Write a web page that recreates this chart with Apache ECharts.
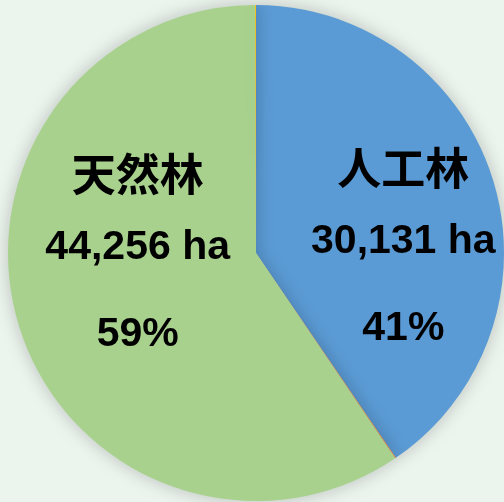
<!DOCTYPE html>
<html>
<head>
<meta charset="utf-8">
<script src="https://cdn.jsdelivr.net/npm/echarts@6/dist/echarts.min.js"></script>
<style>
  html, body { margin: 0; padding: 0; background: #ecf4ee; }
  #chart { width: 504px; height: 502px; }
</style>
</head>
<body>
<div id="chart"></div>
<script>
// 森林面積の内訳 (ha)
const categories = ['人工林', 'その他1', '天然林', 'その他2'];
const areas = [30131, 40, 44256, 40];
const colors = ['#5b9bd5', '#ed7d31', '#a9d18e', '#ffc000'];
const showLabel = [true, false, true, false];
const labelOffsets = [[26, 40], [0, 0], [3, -29], [0, 0]];

// 割合は人工林＋天然林の合計に対して
const labeledTotal = areas.filter((v, i) => showLabel[i]).reduce((a, b) => a + b, 0);

const chart = echarts.init(document.getElementById('chart'));

const data = categories.map((name, i) => ({
    name: name,
    value: areas[i],
    itemStyle: { color: colors[i] },
    label: { show: showLabel[i], offset: labelOffsets[i] }
}));

const numFont = '"Liberation Sans", Arial, sans-serif';

chart.setOption({
    backgroundColor: '#ecf4ee',
    animation: false,
    series: [{
        type: 'pie',
        center: [256, 253],
        radius: [0, 248],
        startAngle: 90,
        clockwise: true,
        data: data,
        itemStyle: {
            borderWidth: 0,
            shadowBlur: 18,
            shadowColor: 'rgba(0,0,0,0.22)'
        },
        labelLine: { show: false },
        label: {
            position: 'inside',
            formatter: p => {
                const pct = Math.round(p.value / labeledTotal * 100);
                return '{n|' + p.name + '}\n{v|' + p.value.toLocaleString('en-US') + ' ha}\n{p|' + pct + '%}';
            },
            rich: {
                n: { fontFamily: 'Noto Sans CJK JP', fontSize: 44, fontWeight: 'bold', color: '#000', lineHeight: 73 },
                v: { fontFamily: numFont, fontSize: 41, fontWeight: 'bold', color: '#000', lineHeight: 73 },
                p: { fontFamily: numFont, fontSize: 41, fontWeight: 'bold', color: '#000', lineHeight: 101 }
            }
        }
    }]
});
</script>
</body>
</html>
